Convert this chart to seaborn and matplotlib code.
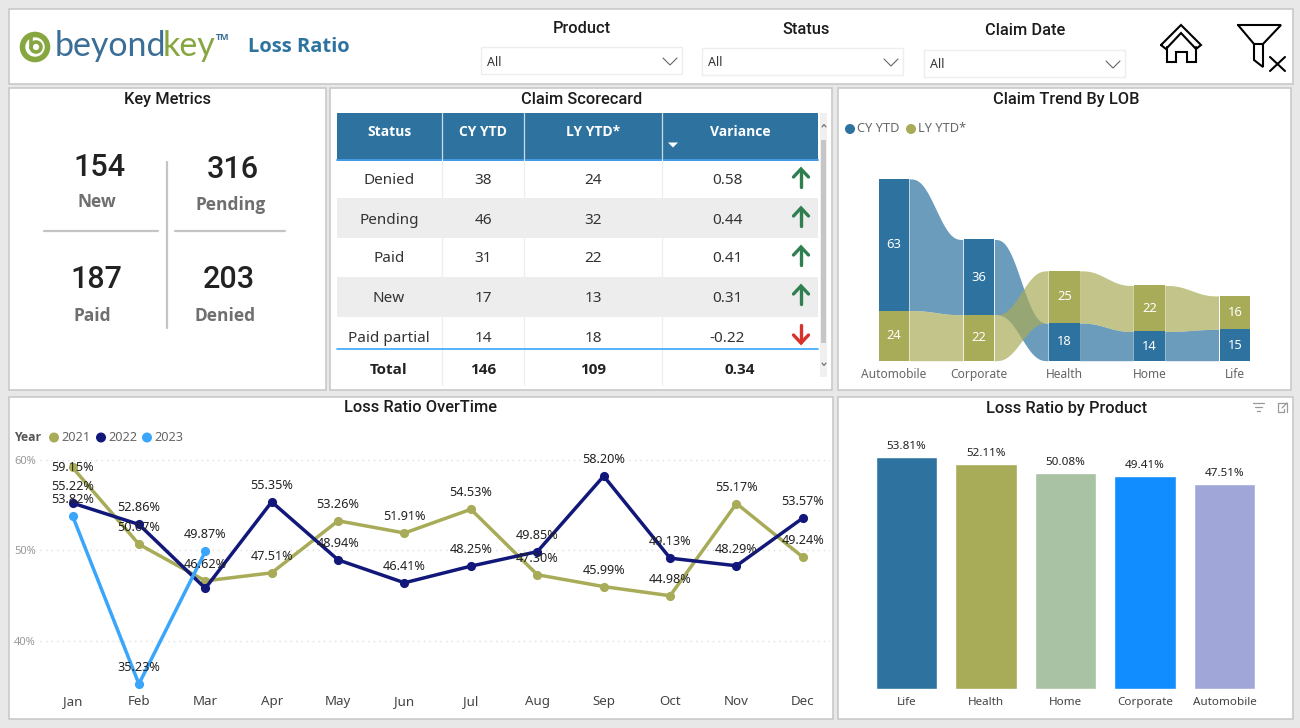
import numpy as np
import pandas as pd
import matplotlib
matplotlib.use("Agg")
import matplotlib.pyplot as plt
from matplotlib.patches import Rectangle, Circle, Polygon
import seaborn as sns

# data
months = ["Jan", "Feb", "Mar", "Apr", "May", "Jun", "Jul", "Aug", "Sep", "Oct", "Nov", "Dec"]
ratio_2021 = [59.15, 50.67, 46.62, 47.51, 53.26, 51.91, 54.53, 47.30, 45.99, 44.98, 55.17, 49.24]
ratio_2022 = [55.22, 52.86, 45.80, 55.35, 48.94, 46.41, 48.25, 49.85, 58.20, 49.13, 48.29, 53.57]
ratio_2023 = [53.82, 35.23, 49.87]
unlabelled_2022 = ["Mar"]

products = ["Life", "Health", "Home", "Corporate", "Automobile"]
product_ratio = [53.81, 52.11, 50.08, 49.41, 47.51]

lobs = ["Automobile", "Corporate", "Health", "Home", "Life"]
lob_cy = [63, 36, 18, 14, 15]
lob_ly = [24, 22, 25, 22, 16]

table_head = ["Status", "CY YTD", "LY YTD*", "Variance"]
table_status = ["Denied", "Pending", "Paid", "New", "Paid partial"]
table_cy = [38, 46, 31, 17, 14]
table_ly = [24, 32, 22, 13, 18]
table_var = [0.58, 0.44, 0.41, 0.31, -0.22]
table_total = ["Total", "146", "109", "0.34"]

metric_names = ["New", "Pending", "Paid", "Denied"]
metric_values = [154, 316, 187, 203]

slicers = ["Product", "Status", "Claim Date"]

BLUE = "#2e73a0"
OLIVE = "#a8ab57"
NAVY = "#12187a"
SKY = "#39a5fb"
TITLE_FONT = "Roboto"
BODY_FONT = "Noto Sans"
BOLD_FONT = "Open Sans"

sns.set_style("white")
plt.rcParams["font.family"] = [BODY_FONT, "DejaVu Sans"]

W, H = 1300, 728
fig = plt.figure(figsize=(W / 100, H / 100), dpi=100, facecolor="#e8e8e8")


def axes_px(x0, y0, x1, y1):
    ax = fig.add_axes([x0 / W, 1 - y1 / H, (x1 - x0) / W, (y1 - y0) / H])
    ax.patch.set_alpha(0)
    return ax


# page layer, in pixel coordinates
page = fig.add_axes([0, 0, 1, 1])
page.set_xlim(0, W)
page.set_ylim(H, 0)
page.axis("off")


def panel(x0, y0, x1, y1):
    page.add_patch(Rectangle((x0, y0), x1 - x0, y1 - y0, fc="white", ec="#c9c9c9", lw=1.2))


def title(x, y, s, size=11.8):
    page.text(x, y + 1.5, s, ha="center", va="center", family=TITLE_FONT, fontsize=size, color="#1c1c1c",
              fontweight="medium")


def poly(xs, ys, color="black", lw=1.2):
    page.plot(xs, ys, color=color, lw=lw, solid_capstyle="round", solid_joinstyle="miter")


panel(9, 9, 1293, 84)
panel(9, 88, 326, 390)
panel(330, 88, 832, 390)
panel(838, 88, 1291, 390)
panel(9, 397, 833, 719)
panel(838, 397, 1293, 719)

# header: logo
page.add_patch(Circle((35, 47), 12.5, fc="none", ec="#86a63f", lw=4))
page.add_patch(Circle((36, 47), 5, fc="none", ec="#86a63f", lw=2.6))
page.plot([31, 31], [37, 48], color="#86a63f", lw=2.6)
page.text(55, 46, "beyond", family="Lato", fontsize=24.5, color="#3b6e96", va="center")
page.text(163, 46, "key", family="Lato", fontsize=24.5, color="#86a63f", va="center")
page.text(216, 38, "TM", family=BOLD_FONT, fontsize=6.5, color="#3b6e96", va="center", fontweight="bold")
page.text(248, 46.5, "Loss Ratio", fontsize=14.5, color=BLUE, fontweight="bold", va="center", family=BOLD_FONT)

# slicers
slicer_x = [481, 702, 924]
slicer_y = [47, 48, 50]
slicer_title_x = [582, 806, 1025]
slicer_title_y = [27, 28, 29]
for name, x, y, tx, ty in zip(slicers, slicer_x, slicer_y, slicer_title_x, slicer_title_y):
    title(tx, ty, name, size=11.8)
    page.add_patch(Rectangle((x, y), 201, 27, fc="white", ec="#eeeeee", lw=1))
    page.text(x + 6, y + 15, "All", fontsize=9, color="#333333", va="center")
    poly([x + 182, x + 189, x + 196], [y + 11, y + 18, y + 11], color="#666666", lw=0.8)

# home and clear filter icons
poly([1161, 1181, 1201, 1196, 1181, 1166, 1161], [45, 25, 45, 49, 33, 49, 45], lw=1.5)
poly([1167, 1167, 1176, 1176, 1187, 1187, 1196, 1196], [47, 62, 62, 52, 52, 62, 62, 47], lw=1.5)
poly([1238, 1281, 1263, 1254, 1238], [25, 25, 44, 44, 25], lw=1.5)
poly([1254, 1254, 1263, 1263], [44, 60, 67, 44], lw=1.5)
poly([1270, 1285], [57, 71], lw=1.5)
poly([1285, 1270], [57, 71], lw=1.5)

# key metrics
title(168, 98, "Key Metrics")
metric_xy = [(100, 167, 97, 202), (233, 169, 231, 205), (96, 280, 92, 316), (229, 280, 225, 316)]
for name, value, (vx, vy, nx, ny) in zip(metric_names, metric_values, metric_xy):
    page.text(vx, vy, str(value), ha="center", va="center", family=TITLE_FONT, fontsize=22, color="#222222",
              fontweight="medium")
    page.text(nx, ny, name, ha="center", va="center", family=BOLD_FONT, fontsize=12.5, color="#6f6f6f", fontweight="bold")
page.plot([167, 167], [162, 328], color="#c4c4c4", lw=1.6)
page.plot([44, 158], [231, 231], color="#c4c4c4", lw=1.6)
page.plot([175, 285], [231, 231], color="#c4c4c4", lw=1.6)

# scorecard table
title(582, 98, "Claim Scorecard")
col_edges = [337, 441.5, 524, 661.5, 818]
col_centres = [389, 483, 593, 727]
page.add_patch(Rectangle((337, 113), 481, 46, fc=BLUE, ec="none"))
page.plot([337, 818], [159.5, 159.5], color="#2f8fe0", lw=1.3)
page.add_patch(Rectangle((337, 197.5), 481, 40.5, fc="#eeeded", ec="none"))
page.add_patch(Rectangle((337, 276.5), 481, 40, fc="#eeeded", ec="none"))
for x in col_edges[1:4]:
    page.plot([x, x], [113, 159], color="#c9dbe7", lw=0.9)
    page.plot([x, x], [160, 385], color="#eeeeee", lw=0.9)
for s, x in zip(table_head, [389, 483, 593, 740]):
    page.text(x, 132.5, s, ha="center", va="center", fontsize=10, color="white", fontweight="bold", family=BOLD_FONT)
page.add_patch(Polygon([(668, 142.5), (678, 142.5), (673, 147.5)], fc="white", ec="none"))
row_y = [181, 220, 259, 298, 338]
for y, status, cy, ly, var in zip(row_y, table_status, table_cy, table_ly, table_var):
    page.text(col_centres[0], y, status, ha="center", va="center", fontsize=11, color="#333333")
    page.text(col_centres[1], y, str(cy), ha="center", va="center", fontsize=11, color="#333333")
    page.text(col_centres[2], y, str(ly), ha="center", va="center", fontsize=11, color="#333333")
    page.text(727, y, f"{var:.2f}", ha="center", va="center", fontsize=11, color="#333333")
    if var >= 0:
        c = "#2f7f50"
        poly([801, 801], [y - 11, y + 6], color=c, lw=2.4)
        poly([793.5, 801, 808.5], [y - 4, y - 12, y - 4], color=c, lw=2.4)
    else:
        c = "#d8322a"
        poly([801, 801], [y - 13, y + 4], color=c, lw=2.4)
        poly([793.5, 801, 808.5], [y - 3, y + 5, y - 3], color=c, lw=2.4)
page.plot([337, 818], [348.7, 348.7], color="#39a5fb", lw=1.2)
for s, x in zip(table_total, [389, 483, 593, 740]):
    page.text(x, 369.5, s, ha="center", va="center", fontsize=11, color="#222222", fontweight="bold", family=BOLD_FONT)
page.add_patch(Rectangle((820, 113), 7, 264, fc="#f0f0f0", ec="none"))
page.add_patch(Rectangle((821, 140), 5, 203, fc="#c6c6c6", ec="none"))
poly([822, 824, 826], [127, 124.5, 127], color="#666666", lw=0.8)
poly([822, 824, 826], [363, 365.5, 363], color="#666666", lw=0.8)

# ribbon chart
title(1066, 98, "Claim Trend By LOB")
page.add_patch(Circle((850, 129), 5, fc=BLUE, ec="none"))
page.text(857, 129, "CY YTD", fontsize=9.2, color="#666666", va="center")
page.add_patch(Circle((911, 129), 5, fc=OLIVE, ec="none"))
page.text(918, 129, "LY YTD*", fontsize=9.2, color="#666666", va="center")

PX_PER_CLAIM = 2.09
ax_rib = axes_px(855, 170, 1275, 360.7)
cy = np.array(lob_cy)
ly = np.array(lob_ly)
cy_bottom = np.where(cy >= ly, ly, 0)
ly_bottom = np.where(cy >= ly, 0, cy)
bar_w = 0.358
lob_df = pd.DataFrame({"lob": lobs, "cy": lob_cy, "ly": lob_ly})
sns.barplot(data=lob_df, x="lob", y="cy", bottom=cy_bottom, color=BLUE, saturation=1, width=bar_w,
            linewidth=0, ax=ax_rib, zorder=3)
sns.barplot(data=lob_df, x="lob", y="ly", bottom=ly_bottom, color=OLIVE, saturation=1, width=bar_w,
            linewidth=0, ax=ax_rib, zorder=3)
ax_rib.set_xlim((855 - 893.8) / 85.25, (1275 - 893.8) / 85.25)
ax_rib.set_ylim(0, (360.7 - 170) / PX_PER_CLAIM)
t = np.linspace(0, 1, 80)
s = t ** 3 * (t * (6 * t - 15) + 10)
for i in range(len(lobs) - 1):
    # ribbons stop just short of the bars, which leaves the thin white seam
    xs = np.linspace(i + bar_w / 2, i + 1 - bar_w / 2 - 0.012, 80)
    for vals, bottoms, col in [(cy, cy_bottom, BLUE), (ly, ly_bottom, OLIVE)]:
        lo = bottoms[i] + (bottoms[i + 1] - bottoms[i]) * s
        hi = bottoms[i] + vals[i] + (bottoms[i + 1] + vals[i + 1] - bottoms[i] - vals[i]) * s
        ax_rib.fill_between(xs, lo, hi, color=col, alpha=0.7, lw=0, zorder=2)
for i in range(len(lobs)):
    ax_rib.text(i, cy_bottom[i] + cy[i] / 2, str(cy[i]), ha="center", va="center", color="white", fontsize=9.3, zorder=4)
    ax_rib.text(i, ly_bottom[i] + ly[i] / 2, str(ly[i]), ha="center", va="center", color="white", fontsize=9.3, zorder=4)
ax_rib.set_xlabel("")
ax_rib.set_ylabel("")
ax_rib.set_yticks([])
ax_rib.tick_params(axis="x", length=0, pad=5, labelsize=8.6, labelcolor="#666666")
sns.despine(ax=ax_rib, left=True, bottom=True)

# loss ratio over time
title(421, 406.5, "Loss Ratio OverTime")
page.text(14, 437.5, "Year", fontsize=8.8, color="#555555", va="center", fontweight="bold", family=BOLD_FONT)
for x, name, col in [(54, "2021", OLIVE), (101, "2022", NAVY), (147, "2023", SKY)]:
    page.add_patch(Circle((x, 437.5), 5, fc=col, ec="none"))
    page.text(x + 7, 437.5, name, fontsize=9.2, color="#666666", va="center")

line_df = pd.DataFrame({
    "month": months + months + months[:3],
    "ratio": ratio_2021 + ratio_2022 + ratio_2023,
    "year": ["2021"] * 12 + ["2022"] * 12 + ["2023"] * 3,
})
PX_PER_PCT = 9.05
ax_line = axes_px(40, 450, 830, 695)
sns.lineplot(data=line_df, x="month", y="ratio", hue="year", palette=[OLIVE, NAVY, SKY], sort=False,
             linewidth=2.5, marker="o", markersize=6.6, markeredgewidth=0, legend=False, ax=ax_line)
ax_line.set_xlim((40 - 72.5) / 66.4, (830 - 72.5) / 66.4)
ax_line.set_ylim(50 - (695 - 550.3) / PX_PER_PCT, 50 + (550.3 - 450) / PX_PER_PCT)
ax_line.set_yticks([40, 50, 60], ["40%", "50%", "60%"])
ax_line.set_xlabel("")
ax_line.set_ylabel("")
ax_line.tick_params(axis="y", length=0, pad=3, labelsize=8, labelcolor="#999999")
ax_line.tick_params(axis="x", length=0, pad=0, labelsize=9.6, labelcolor="#444444")
ax_line.yaxis.grid(True, color="#dddddd", linestyle=(0, (1, 3)), lw=1)
ax_line.set_axisbelow(True)
sns.despine(ax=ax_line, left=True, bottom=True)
for _, row in line_df.iterrows():
    if row["year"] == "2022" and row["month"] in unlabelled_2022:
        continue
    offset = 0 if row["ratio"] > 59 else 16.5 * 0.72
    ax_line.annotate(f"{row['ratio']:.2f}%", (months.index(row["month"]), row["ratio"]), xytext=(0, offset),
                     textcoords="offset points", ha="center", va="center", fontsize=9.1, color="#222222",
                     zorder=5)

# loss ratio by product
title(1067, 407, "Loss Ratio by Product")
poly([1253, 1264], [403, 403], color="#999999", lw=0.9)
poly([1255, 1262], [407, 407], color="#999999", lw=0.9)
poly([1257, 1260], [411, 411], color="#999999", lw=0.9)
poly([1278, 1278, 1287, 1287], [406, 403, 403, 412], color="#999999", lw=0.9)
poly([1278, 1278, 1284, 1284], [406, 412, 412, 409], color="#999999", lw=0.9)
poly([1282, 1287], [408, 403], color="#999999", lw=0.9)

prod_df = pd.DataFrame({"product": products, "ratio": product_ratio})
ax_bar = axes_px(860, 430, 1272, 689)
sns.barplot(data=prod_df, x="product", y="ratio", hue="product", dodge=False, legend=False, saturation=1,
            palette=[BLUE, OLIVE, "#a9c2a4", "#118dff", "#a0a7d8"], width=0.775, ax=ax_bar)
ax_bar.set_xlim((860 - 906.5) / 79.5, (1272 - 906.5) / 79.5)
ax_bar.set_ylim(0, (689 - 430) / 4.31)
for i, v in enumerate(product_ratio):
    ax_bar.annotate(f"{v:.2f}%", (i, v), xytext=(0, 10.5 * 0.72), textcoords="offset points", ha="center",
                    va="center", fontsize=8.4, color="#222222")
ax_bar.set_xlabel("")
ax_bar.set_ylabel("")
ax_bar.set_yticks([])
ax_bar.tick_params(axis="x", length=0, pad=6, labelsize=8.4, labelcolor="#444444")
sns.despine(ax=ax_bar, left=True, bottom=True)

fig.savefig("out.png", dpi=100, facecolor=fig.get_facecolor())
